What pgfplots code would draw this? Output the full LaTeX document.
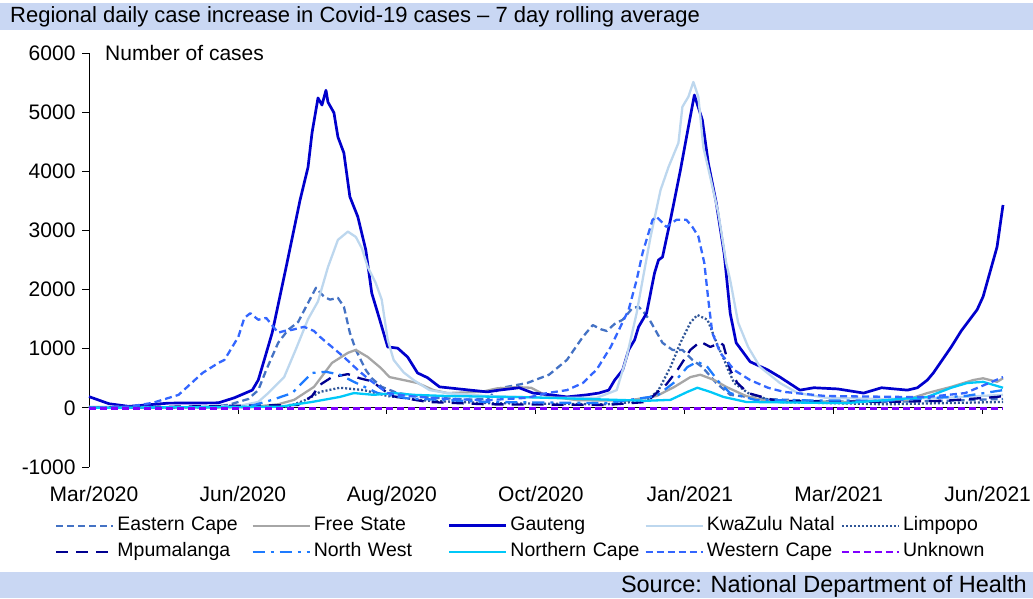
\documentclass[border=0pt]{standalone}
\usepackage{pgfplots}
\pgfplotsset{compat=1.18}
\usepackage{fontspec}
\setmainfont{Liberation Sans}
\definecolor{ec}{HTML}{4472C4}
\definecolor{fs}{HTML}{A6A6A6}
\definecolor{gp}{HTML}{0000CC}
\definecolor{kzn}{HTML}{BDD7EE}
\definecolor{lp}{HTML}{2F5597}
\definecolor{mp}{HTML}{000090}
\definecolor{nw}{HTML}{1E7BFF}
\definecolor{nc}{HTML}{00C8F8}
\definecolor{wc}{HTML}{3366FF}
\definecolor{unk}{HTML}{7F00FF}
\definecolor{band}{HTML}{C9D7F3}
\begin{document}
\begin{tikzpicture}[x=1pt,y=1pt]
\path[use as bounding box] (0,0) rectangle (1033,598);
\fill[band] (0,568) rectangle (1033,595);
\node[anchor=west,inner sep=0pt] at (10,581) {\fontsize{22}{24}\selectfont Regional daily case increase in Covid-19 cases -- 7 day rolling average};
\fill[band] (0,0) rectangle (1033,26);
\node[anchor=east,inner sep=0pt] at (1027,12) {\fontsize{23.5}{25}\selectfont Source: National Department of Health};
\begin{axis}[
  at={(89pt,131pt)}, anchor=south west,
  scale only axis, width=914pt, height=414pt,
  xmin=0, xmax=459, ymin=-1000, ymax=6000,
  clip=false,
  axis lines=left,
  axis line style={-, black, line width=0.9pt},
  x axis line style={draw=none},
  xtick={0,74.8,149.6,224.4,299.2,374,448.8},
  xticklabels={Mar/2020,Jun/2020,Aug/2020,Oct/2020,Jan/2021,Mar/2021,Jun/2021},
  major x tick style={draw=none},
  ytick={-1000,0,1000,2000,3000,4000,5000,6000},
  tick align=outside,
  major tick length=7pt,
  y tick style={black, line width=0.9pt},
  /pgf/number format/assume math mode=true,
  /pgf/number format/1000 sep={},
  tick label style={font=\fontsize{21}{24}\selectfont},
  xticklabel style={yshift=-9pt, xshift=5pt},
  yticklabel style={xshift=-3pt},
  legend columns=5,
  legend cell align=left,
  legend style={draw=none, fill=none, at={(axis description cs:-0.0405,-0.11)}, anchor=north west,
    font=\fontsize{19.5}{22}\selectfont,
    nodes={inner xsep=3pt, inner ysep=2pt, text width=131pt, text height=14pt, text depth=4pt},
    /tikz/every even column/.append style={column sep=0pt},
    row sep=4pt},
  legend image code/.code={\draw[#1] (0pt,0pt) -- (57pt,0pt);},
  every axis plot/.append style={line width=2.3pt, line cap=butt, line join=round},
]
\draw[black, line width=0.9pt] (axis cs:0,0) -- (axis cs:459,0);
\pgfplotsinvokeforeach{74.8,149.6,224.4,299.2,374,448.8}{\draw[black, line width=0.9pt] (axis cs:#1,0) -- ++(0pt,-6pt);}
\node[anchor=west, inner sep=0pt, font=\fontsize{21}{24}\selectfont] at (axis cs:0,6000) [xshift=16pt] {Number of cases};

% Eastern Cape
\addplot[ec, dash pattern=on 7pt off 4pt] coordinates {
(0,0) (40,5) (60,15) (70,50) (80,150) (85,300) (89,640) (95,1100) (100,1320) (105,1450) (109,1710) (114,2030) (118,1880) (121,1830) (125,1860) (128,1710) (131,1270) (134,980) (139,640) (142,500) (147,355) (155,250) (170,180) (190,140) (200,150) (206,330) (220,420) (231,560) (240,810) (248,1200) (253,1400) (257,1330) (260,1300) (264,1420) (268,1490) (273,1690) (276,1710) (279,1600) (282,1460) (288,1100) (293,980) (298,980) (303,810) (308,690) (315,420) (322,220) (340,150) (370,110) (400,100) (430,120) (459,150)
};
\addlegendentry{Eastern Cape}
% Free State
\addplot[fs] coordinates {
(0,0) (80,10) (95,60) (103,135) (113,355) (122,760) (130,930) (134,980) (140,860) (146,690) (151,520) (158,470) (165,420) (173,300) (180,250) (197,270) (205,330) (215,350) (222,340) (230,200) (245,130) (270,120) (285,200) (294,355) (302,520) (307,560) (314,470) (320,355) (330,200) (340,120) (380,100) (410,130) (421,250) (433,355) (444,470) (449,500) (456,440) (459,500)
};
\addlegendentry{Free State}
% Gauteng
\addplot[gp, line width=2.7pt] coordinates {
(0,190) (5,130) (10,70) (20,25) (40,80) (65,85) (73,170) (82,300) (85,470) (88,810) (92,1270) (99,2380) (106,3515) (110,4070) (112,4650) (115,5240) (117,5120) (119,5370) (120,5170) (123,4990) (125,4580) (128,4310) (131,3570) (135,3230) (139,2670) (142,1940) (146,1490) (150,1030) (155,1010) (160,860) (165,590) (170,510) (176,355) (190,305) (200,270) (206,300) (216,340) (223,250) (232,220) (240,185) (250,220) (256,250) (261,300) (264,470) (268,640) (271,980) (274,1150) (276,1370) (280,1600) (284,2280) (286,2500) (288,2550) (292,3180) (297,4020) (301,4750) (304,5290) (308,4870) (311,4140) (315,3465) (319,2600) (322,1600) (325,1100) (332,780) (341,640) (347,520) (357,300) (364,340) (376,320) (389,250) (398,340) (411,300) (416,340) (421,470) (424,590) (433,1030) (438,1300) (446,1660) (449,1880) (456,2720) (459,3430)
};
\addlegendentry{Gauteng}
% KwaZulu Natal
\addplot[kzn] coordinates {
(0,20) (40,10) (75,30) (85,100) (90,250) (98,520) (104,1000) (110,1500) (115,1800) (120,2380) (125,2840) (130,2980) (134,2890) (137,2700) (140,2380) (144,2110) (147,1830) (150,1150) (153,810) (158,600) (163,470) (171,300) (180,250) (200,200) (230,170) (255,170) (265,300) (270,860) (275,1600) (278,2160) (282,2890) (287,3680) (291,4070) (296,4480) (298,5090) (301,5260) (303.5,5510) (306,5260) (308.5,4410) (312,3900) (316,3300) (320,2450) (322,2160) (326,1440) (331,1030) (337,690) (347,420) (356,250) (370,170) (400,150) (430,170) (459,220)
};
\addlegendentry{KwaZulu Natal}
% Limpopo
\addplot[lp, dash pattern=on 2pt off 2pt] coordinates {
(0,0) (100,20) (110,150) (116,270) (126,340) (132,320) (138,300) (150,200) (170,120) (200,80) (260,60) (280,120) (286,300) (292,690) (297,1100) (302,1440) (305.5,1570) (310.6,1490) (314,1200) (316,1030) (319,810) (321,640) (324,420) (331,250) (345,100) (400,60) (459,100)
};
\addlegendentry{Limpopo}
% Mpumalanga
\addplot[mp, dash pattern=on 12pt off 8pt] coordinates {
(0,0) (105,50) (112,200) (116,390) (122,520) (130,570) (136,500) (142,450) (146,350) (152,200) (170,100) (200,60) (260,50) (280,100) (290,400) (295.5,640) (302,980) (307,1120) (312,1030) (317,1100) (318.6,1060) (322,640) (325.6,420) (331,250) (345,120) (400,100) (430,120) (456,185) (459,200)
};
\addlegendentry{Mpumalanga}
% North West
\addplot[nw, dash pattern=on 12pt off 6pt on 3pt off 6pt] coordinates {
(0,0) (80,20) (92,135) (102,250) (112,590) (119,610) (126,560) (133,440) (145,250) (160,160) (200,100) (260,80) (285,200) (293.5,420) (300.5,690) (305.5,780) (310.6,690) (316,450) (322,250) (335,130) (400,120) (440,200) (459,300)
};
\addlegendentry{North West}
% Northern Cape
\addplot[nc] coordinates {
(0,0) (96,20) (112,100) (126,185) (133,250) (143,220) (153,250) (163,220) (180,200) (220,180) (250,150) (280,120) (292,135) (300.5,270) (305.5,340) (312,270) (318.6,185) (330,100) (380,80) (421,185) (433,340) (441,420) (449,440) (459,340)
};
\addlegendentry{Northern Cape}
% Western Cape
\addplot[wc, dash pattern=on 7pt off 4pt] coordinates {
(0,0) (15,10) (20,20) (32,85) (45,220) (57,590) (65,760) (68,810) (75,1200) (78,1520) (81,1600) (85,1490) (89,1520) (95,1270) (98,1300) (102,1320) (108,1370) (113,1300) (116,1200) (122,1030) (128,860) (135,640) (141,470) (150,250) (160,200) (180,150) (200,130) (220,170) (230,250) (240,300) (248,420) (255,650) (262,1030) (271,1660) (275,2160) (278,2620) (283,3180) (285,3230) (290,3060) (295,3180) (300,3180) (303,3060) (306,2900) (309,2450) (311,1830) (313,1270) (317,930) (324,640) (332,470) (341,340) (349,270) (370,200) (420,180) (440,250) (459,520)
};
\addlegendentry{Western Cape}
% Unknown
\addplot[unk, dash pattern=on 7pt off 4pt] coordinates {
(0,-10) (100,-10) (200,-10) (300,-10) (400,-10) (459,-10)
};
\addlegendentry{Unknown}
\end{axis}
\end{tikzpicture}
\end{document}
